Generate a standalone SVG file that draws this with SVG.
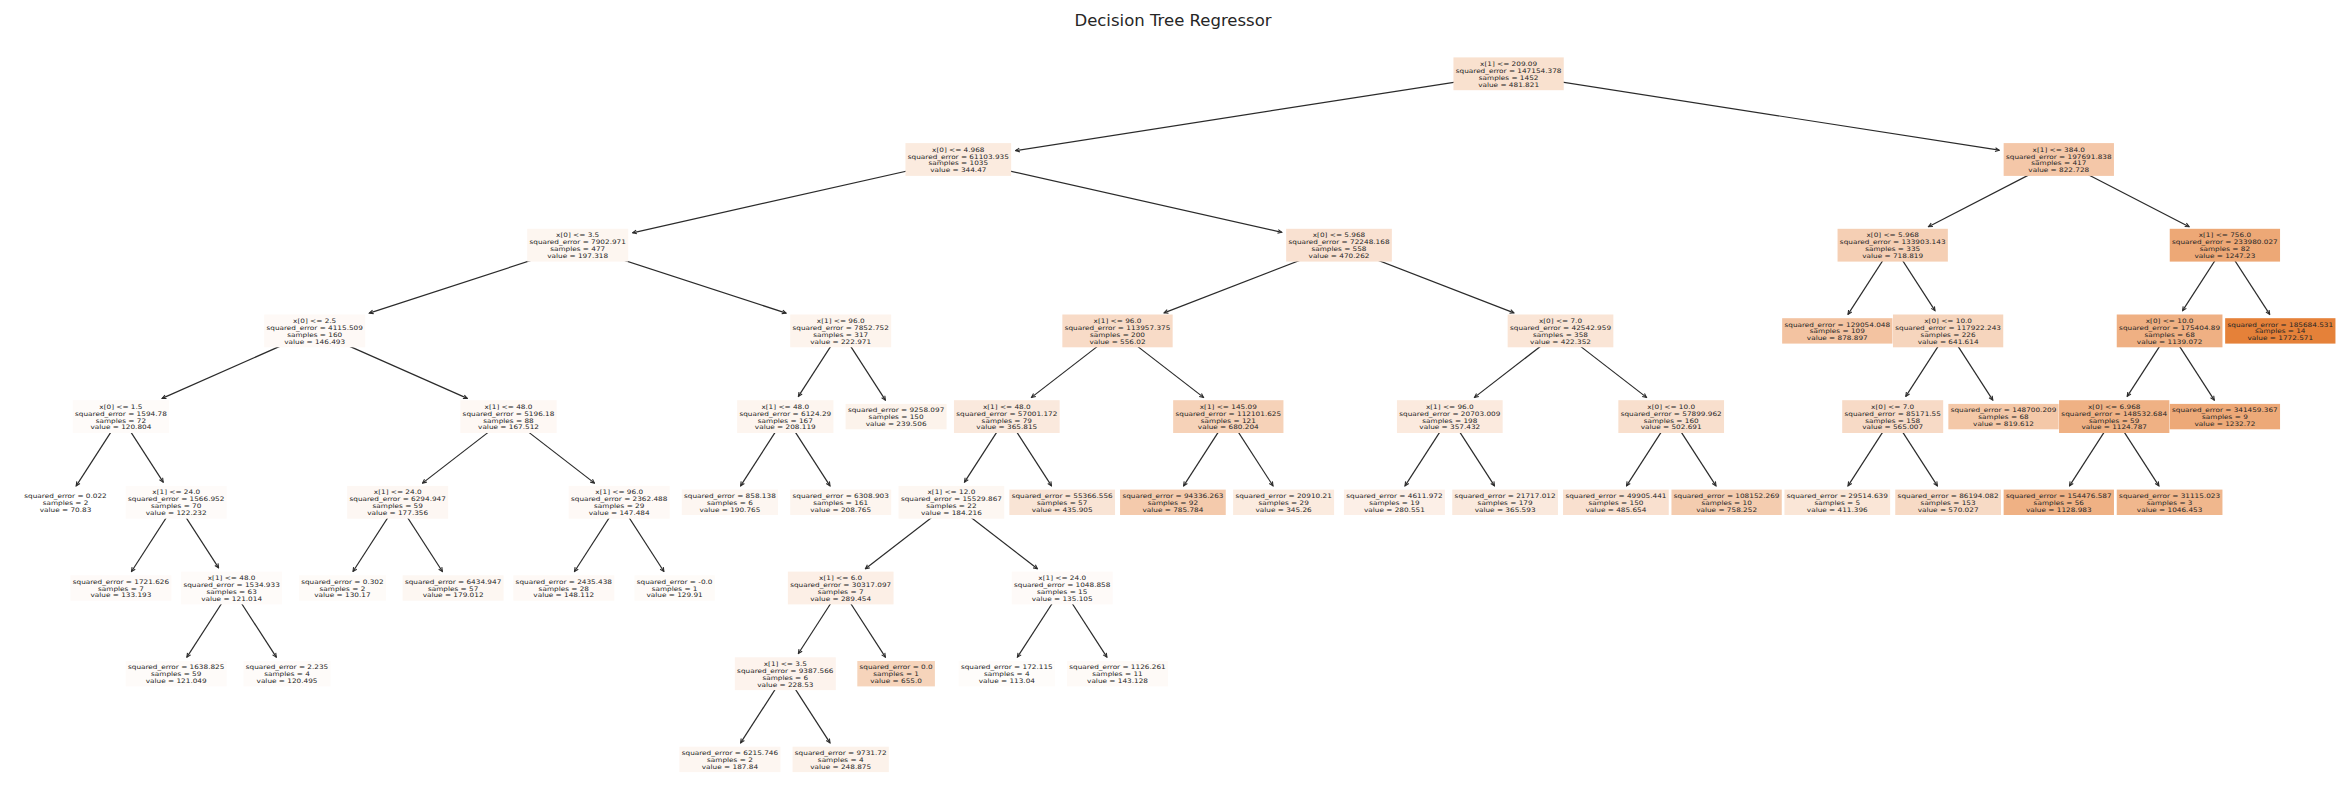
<svg xmlns="http://www.w3.org/2000/svg" width="2345" height="812" viewBox="0 0 2345 812">
<style>
.t{font-family:"DejaVu Sans","Liberation Sans",sans-serif;font-size:6.1px;fill:#262626;text-anchor:middle}
.title{font-family:"DejaVu Sans","Liberation Sans",sans-serif;font-size:16.5px;fill:#262626;text-anchor:middle}
.e{stroke:#2b2b2b;stroke-width:1.2;fill:none;marker-end:url(#ah)}
</style>
<defs>
<marker id="ah" viewBox="-5 -3 6 6" refX="0" refY="0" markerWidth="6" markerHeight="6" markerUnits="userSpaceOnUse" orient="auto">
<path d="M-4,-1.9 L0,0 L-4,1.9" fill="none" stroke="#2b2b2b" stroke-width="1.1"/>
</marker>
</defs>
<rect width="2345" height="812" fill="#ffffff"/>
<text class="title" x="1173" y="25.5">Decision Tree Regressor</text>
<g id="connectors">
<path class="e" d="M1508.6,73.8 L1015.6,150.6"/>
<path class="e" d="M1508.6,73.8 L1999.2,150.2"/>
<path class="e" d="M958.3,159.5 L632.6,232.8"/>
<path class="e" d="M958.3,159.5 L1281.8,232.3"/>
<path class="e" d="M2058.8,159.5 L1928.5,226.7"/>
<path class="e" d="M2058.8,159.5 L2189.1,226.7"/>
<path class="e" d="M577.7,245.2 L369.3,313.1"/>
<path class="e" d="M577.7,245.2 L786.1,313.1"/>
<path class="e" d="M1339.0,245.2 L1164.1,312.9"/>
<path class="e" d="M1339.0,245.2 L1513.9,312.9"/>
<path class="e" d="M1892.7,245.2 L1848.0,314.4"/>
<path class="e" d="M1892.7,245.2 L1935.0,310.7"/>
<path class="e" d="M2224.9,245.2 L2182.6,310.7"/>
<path class="e" d="M2224.9,245.2 L2269.7,314.4"/>
<path class="e" d="M314.7,330.9 L162.1,398.4"/>
<path class="e" d="M314.7,330.9 L467.3,398.4"/>
<path class="e" d="M840.7,330.9 L798.4,396.4"/>
<path class="e" d="M840.7,330.9 L885.4,400.1"/>
<path class="e" d="M1117.5,330.9 L1031.5,397.4"/>
<path class="e" d="M1117.5,330.9 L1203.5,397.4"/>
<path class="e" d="M1560.5,330.9 L1474.5,397.4"/>
<path class="e" d="M1560.5,330.9 L1646.5,397.4"/>
<path class="e" d="M1948.1,330.9 L1905.8,396.4"/>
<path class="e" d="M1948.1,330.9 L1992.8,400.1"/>
<path class="e" d="M2169.6,330.9 L2127.2,396.4"/>
<path class="e" d="M2169.6,330.9 L2214.3,400.1"/>
<path class="e" d="M120.9,416.6 L76.2,485.8"/>
<path class="e" d="M120.9,416.6 L163.2,482.1"/>
<path class="e" d="M508.5,416.6 L422.5,483.1"/>
<path class="e" d="M508.5,416.6 L594.5,483.1"/>
<path class="e" d="M785.3,416.6 L740.6,485.8"/>
<path class="e" d="M785.3,416.6 L830.0,485.8"/>
<path class="e" d="M1006.8,416.6 L964.5,482.1"/>
<path class="e" d="M1006.8,416.6 L1051.5,485.8"/>
<path class="e" d="M1228.3,416.6 L1183.6,485.8"/>
<path class="e" d="M1228.3,416.6 L1273.0,485.8"/>
<path class="e" d="M1449.8,416.6 L1405.0,485.8"/>
<path class="e" d="M1449.8,416.6 L1494.5,485.8"/>
<path class="e" d="M1671.2,416.6 L1626.5,485.8"/>
<path class="e" d="M1671.2,416.6 L1716.0,485.8"/>
<path class="e" d="M1892.7,416.6 L1848.0,485.8"/>
<path class="e" d="M1892.7,416.6 L1937.4,485.8"/>
<path class="e" d="M2114.2,416.6 L2069.5,485.8"/>
<path class="e" d="M2114.2,416.6 L2158.9,485.8"/>
<path class="e" d="M176.2,502.3 L131.5,571.5"/>
<path class="e" d="M176.2,502.3 L218.6,567.8"/>
<path class="e" d="M397.7,502.3 L353.0,571.5"/>
<path class="e" d="M397.7,502.3 L442.4,571.5"/>
<path class="e" d="M619.2,502.3 L574.5,571.5"/>
<path class="e" d="M619.2,502.3 L663.9,571.5"/>
<path class="e" d="M951.4,502.3 L865.4,568.8"/>
<path class="e" d="M951.4,502.3 L1037.4,568.8"/>
<path class="e" d="M231.6,588.0 L186.9,657.2"/>
<path class="e" d="M231.6,588.0 L276.3,657.2"/>
<path class="e" d="M840.7,588.0 L798.4,653.5"/>
<path class="e" d="M840.7,588.0 L885.4,657.2"/>
<path class="e" d="M1062.2,588.0 L1017.4,657.2"/>
<path class="e" d="M1062.2,588.0 L1106.9,657.2"/>
<path class="e" d="M785.3,673.7 L740.6,742.9"/>
<path class="e" d="M785.3,673.7 L830.0,742.9"/>
</g>

<g id="n0"><rect x="1453.45" y="57.4" width="110.3" height="32.8" fill="#f9e1cf"/><text class="t" transform="translate(1508.6 0) scale(1.2 1)"><tspan x="0" y="66.0">x[1] &lt;= 209.09</tspan><tspan x="0" y="72.9">squared_error = 147154.378</tspan><tspan x="0" y="79.8">samples = 1452</tspan><tspan x="0" y="86.7">value = 481.821</tspan></text></g>

<g id="n1"><rect x="905.45" y="143.1" width="105.7" height="32.8" fill="#fbebdf"/><text class="t" transform="translate(958.3 0) scale(1.2 1)"><tspan x="0" y="151.7">x[0] &lt;= 4.968</tspan><tspan x="0" y="158.6">squared_error = 61103.935</tspan><tspan x="0" y="165.5">samples = 1035</tspan><tspan x="0" y="172.4">value = 344.47</tspan></text></g>
<g id="n2"><rect x="2003.65" y="143.1" width="110.3" height="32.8" fill="#f4c7a8"/><text class="t" transform="translate(2058.8 0) scale(1.2 1)"><tspan x="0" y="151.7">x[1] &lt;= 384.0</tspan><tspan x="0" y="158.6">squared_error = 197691.838</tspan><tspan x="0" y="165.5">samples = 417</tspan><tspan x="0" y="172.4">value = 822.728</tspan></text></g>

<g id="n3"><rect x="527.2" y="228.8" width="101" height="32.8" fill="#fdf6f0"/><text class="t" transform="translate(577.7 0) scale(1.2 1)"><tspan x="0" y="237.4">x[0] &lt;= 3.5</tspan><tspan x="0" y="244.3">squared_error = 7902.971</tspan><tspan x="0" y="251.2">samples = 477</tspan><tspan x="0" y="258.1">value = 197.318</tspan></text></g>
<g id="n4"><rect x="1286.15" y="228.8" width="105.7" height="32.8" fill="#f9e1d1"/><text class="t" transform="translate(1339.0 0) scale(1.2 1)"><tspan x="0" y="237.4">x[0] &lt;= 5.968</tspan><tspan x="0" y="244.3">squared_error = 72248.168</tspan><tspan x="0" y="251.2">samples = 558</tspan><tspan x="0" y="258.1">value = 470.262</tspan></text></g>
<g id="n5"><rect x="1837.55" y="228.8" width="110.3" height="32.8" fill="#f5cfb4"/><text class="t" transform="translate(1892.7 0) scale(1.2 1)"><tspan x="0" y="237.4">x[0] &lt;= 5.968</tspan><tspan x="0" y="244.3">squared_error = 133903.143</tspan><tspan x="0" y="251.2">samples = 335</tspan><tspan x="0" y="258.1">value = 718.819</tspan></text></g>
<g id="n6"><rect x="2169.75" y="228.8" width="110.3" height="32.8" fill="#eda876"/><text class="t" transform="translate(2224.9 0) scale(1.2 1)"><tspan x="0" y="237.4">x[1] &lt;= 756.0</tspan><tspan x="0" y="244.3">squared_error = 233980.027</tspan><tspan x="0" y="251.2">samples = 82</tspan><tspan x="0" y="258.1">value = 1247.23</tspan></text></g>

<g id="n7"><rect x="264.2" y="314.5" width="101" height="32.8" fill="#fef9f6"/><text class="t" transform="translate(314.7 0) scale(1.2 1)"><tspan x="0" y="323.1">x[0] &lt;= 2.5</tspan><tspan x="0" y="330.0">squared_error = 4115.509</tspan><tspan x="0" y="336.9">samples = 160</tspan><tspan x="0" y="343.8">value = 146.493</tspan></text></g>
<g id="n8"><rect x="790.2" y="314.5" width="101" height="32.8" fill="#fdf4ed"/><text class="t" transform="translate(840.7 0) scale(1.2 1)"><tspan x="0" y="323.1">x[1] &lt;= 96.0</tspan><tspan x="0" y="330.0">squared_error = 7852.752</tspan><tspan x="0" y="336.9">samples = 317</tspan><tspan x="0" y="343.8">value = 222.971</tspan></text></g>
<g id="n9"><rect x="1062.35" y="314.5" width="110.3" height="32.8" fill="#f8dbc7"/><text class="t" transform="translate(1117.5 0) scale(1.2 1)"><tspan x="0" y="323.1">x[1] &lt;= 96.0</tspan><tspan x="0" y="330.0">squared_error = 113957.375</tspan><tspan x="0" y="336.9">samples = 200</tspan><tspan x="0" y="343.8">value = 556.02</tspan></text></g>
<g id="n10"><rect x="1507.65" y="314.5" width="105.7" height="32.8" fill="#fae5d6"/><text class="t" transform="translate(1560.5 0) scale(1.2 1)"><tspan x="0" y="323.1">x[0] &lt;= 7.0</tspan><tspan x="0" y="330.0">squared_error = 42542.959</tspan><tspan x="0" y="336.9">samples = 358</tspan><tspan x="0" y="343.8">value = 422.352</tspan></text></g>
<g id="n11"><rect x="1782.15" y="318.2" width="110.3" height="25.4" fill="#f3c3a1"/><text class="t" transform="translate(1837.3 0) scale(1.2 1)"><tspan x="0" y="326.55">squared_error = 129054.048</tspan><tspan x="0" y="333.45">samples = 109</tspan><tspan x="0" y="340.35">value = 878.897</tspan></text></g>
<g id="n12"><rect x="1892.95" y="314.5" width="110.3" height="32.8" fill="#f6d5bd"/><text class="t" transform="translate(1948.1 0) scale(1.2 1)"><tspan x="0" y="323.1">x[0] &lt;= 10.0</tspan><tspan x="0" y="330.0">squared_error = 117922.243</tspan><tspan x="0" y="336.9">samples = 226</tspan><tspan x="0" y="343.8">value = 641.614</tspan></text></g>
<g id="n13"><rect x="2116.75" y="314.5" width="105.7" height="32.8" fill="#efb083"/><text class="t" transform="translate(2169.6 0) scale(1.2 1)"><tspan x="0" y="323.1">x[0] &lt;= 10.0</tspan><tspan x="0" y="330.0">squared_error = 175404.89</tspan><tspan x="0" y="336.9">samples = 68</tspan><tspan x="0" y="343.8">value = 1139.072</tspan></text></g>
<g id="n14"><rect x="2225.15" y="318.2" width="110.3" height="25.4" fill="#e58139"/><text class="t" transform="translate(2280.3 0) scale(1.2 1)"><tspan x="0" y="326.55">squared_error = 185684.531</tspan><tspan x="0" y="333.45">samples = 14</tspan><tspan x="0" y="340.35">value = 1772.571</tspan></text></g>

<g id="n15"><rect x="72.75" y="400.2" width="96.3" height="32.8" fill="#fefbf9"/><text class="t" transform="translate(120.9 0) scale(1.2 1)"><tspan x="0" y="408.8">x[0] &lt;= 1.5</tspan><tspan x="0" y="415.7">squared_error = 1594.78</tspan><tspan x="0" y="422.6">samples = 72</tspan><tspan x="0" y="429.5">value = 120.804</tspan></text></g>
<g id="n16"><rect x="460.35" y="400.2" width="96.3" height="32.8" fill="#fef8f4"/><text class="t" transform="translate(508.5 0) scale(1.2 1)"><tspan x="0" y="408.8">x[1] &lt;= 48.0</tspan><tspan x="0" y="415.7">squared_error = 5196.18</tspan><tspan x="0" y="422.6">samples = 88</tspan><tspan x="0" y="429.5">value = 167.512</tspan></text></g>
<g id="n17"><rect x="737.15" y="400.2" width="96.3" height="32.8" fill="#fdf5ef"/><text class="t" transform="translate(785.3 0) scale(1.2 1)"><tspan x="0" y="408.8">x[1] &lt;= 48.0</tspan><tspan x="0" y="415.7">squared_error = 6124.29</tspan><tspan x="0" y="422.6">samples = 167</tspan><tspan x="0" y="429.5">value = 208.119</tspan></text></g>
<g id="n18"><rect x="845.6" y="403.9" width="101" height="25.4" fill="#fcf3eb"/><text class="t" transform="translate(896.1 0) scale(1.2 1)"><tspan x="0" y="412.25">squared_error = 9258.097</tspan><tspan x="0" y="419.15">samples = 150</tspan><tspan x="0" y="426.05">value = 239.506</tspan></text></g>
<g id="n19"><rect x="953.95" y="400.2" width="105.7" height="32.8" fill="#fae9dd"/><text class="t" transform="translate(1006.8 0) scale(1.2 1)"><tspan x="0" y="408.8">x[1] &lt;= 48.0</tspan><tspan x="0" y="415.7">squared_error = 57001.172</tspan><tspan x="0" y="422.6">samples = 79</tspan><tspan x="0" y="429.5">value = 365.815</tspan></text></g>
<g id="n20"><rect x="1173.15" y="400.2" width="110.3" height="32.8" fill="#f6d2b8"/><text class="t" transform="translate(1228.3 0) scale(1.2 1)"><tspan x="0" y="408.8">x[1] &lt;= 145.09</tspan><tspan x="0" y="415.7">squared_error = 112101.625</tspan><tspan x="0" y="422.6">samples = 121</tspan><tspan x="0" y="429.5">value = 680.204</tspan></text></g>
<g id="n21"><rect x="1396.95" y="400.2" width="105.7" height="32.8" fill="#fbeade"/><text class="t" transform="translate(1449.8 0) scale(1.2 1)"><tspan x="0" y="408.8">x[1] &lt;= 96.0</tspan><tspan x="0" y="415.7">squared_error = 20703.009</tspan><tspan x="0" y="422.6">samples = 198</tspan><tspan x="0" y="429.5">value = 357.432</tspan></text></g>
<g id="n22"><rect x="1618.35" y="400.2" width="105.7" height="32.8" fill="#f8dfcd"/><text class="t" transform="translate(1671.2 0) scale(1.2 1)"><tspan x="0" y="408.8">x[0] &lt;= 10.0</tspan><tspan x="0" y="415.7">squared_error = 57899.962</tspan><tspan x="0" y="422.6">samples = 160</tspan><tspan x="0" y="429.5">value = 502.691</tspan></text></g>
<g id="n23"><rect x="1842.2" y="400.2" width="101" height="32.8" fill="#f7dac6"/><text class="t" transform="translate(1892.7 0) scale(1.2 1)"><tspan x="0" y="408.8">x[0] &lt;= 7.0</tspan><tspan x="0" y="415.7">squared_error = 85171.55</tspan><tspan x="0" y="422.6">samples = 158</tspan><tspan x="0" y="429.5">value = 565.007</tspan></text></g>
<g id="n24"><rect x="1948.35" y="403.9" width="110.3" height="25.4" fill="#f4c8a8"/><text class="t" transform="translate(2003.5 0) scale(1.2 1)"><tspan x="0" y="412.25">squared_error = 148700.209</tspan><tspan x="0" y="419.15">samples = 68</tspan><tspan x="0" y="426.05">value = 819.612</tspan></text></g>
<g id="n25"><rect x="2059.05" y="400.2" width="110.3" height="32.8" fill="#efb184"/><text class="t" transform="translate(2114.2 0) scale(1.2 1)"><tspan x="0" y="408.8">x[0] &lt;= 6.968</tspan><tspan x="0" y="415.7">squared_error = 148532.684</tspan><tspan x="0" y="422.6">samples = 59</tspan><tspan x="0" y="429.5">value = 1124.787</tspan></text></g>
<g id="n26"><rect x="2169.75" y="403.9" width="110.3" height="25.4" fill="#eda978"/><text class="t" transform="translate(2224.9 0) scale(1.2 1)"><tspan x="0" y="412.25">squared_error = 341459.367</tspan><tspan x="0" y="419.15">samples = 9</tspan><tspan x="0" y="426.05">value = 1232.72</tspan></text></g>

<g id="n27"><rect x="22.0" y="489.6" width="87" height="25.4" fill="#ffffff"/><text class="t" transform="translate(65.5 0) scale(1.2 1)"><tspan x="0" y="497.95">squared_error = 0.022</tspan><tspan x="0" y="504.85">samples = 2</tspan><tspan x="0" y="511.75">value = 70.83</tspan></text></g>
<g id="n28"><rect x="125.7" y="485.9" width="101" height="32.8" fill="#fefbf9"/><text class="t" transform="translate(176.2 0) scale(1.2 1)"><tspan x="0" y="494.5">x[1] &lt;= 24.0</tspan><tspan x="0" y="501.4">squared_error = 1566.952</tspan><tspan x="0" y="508.3">samples = 70</tspan><tspan x="0" y="515.2">value = 122.232</tspan></text></g>
<g id="n29"><rect x="347.2" y="485.9" width="101" height="32.8" fill="#fdf7f3"/><text class="t" transform="translate(397.7 0) scale(1.2 1)"><tspan x="0" y="494.5">x[1] &lt;= 24.0</tspan><tspan x="0" y="501.4">squared_error = 6294.947</tspan><tspan x="0" y="508.3">samples = 59</tspan><tspan x="0" y="515.2">value = 177.356</tspan></text></g>
<g id="n30"><rect x="568.7" y="485.9" width="101" height="32.8" fill="#fef9f6"/><text class="t" transform="translate(619.2 0) scale(1.2 1)"><tspan x="0" y="494.5">x[1] &lt;= 96.0</tspan><tspan x="0" y="501.4">squared_error = 2362.488</tspan><tspan x="0" y="508.3">samples = 29</tspan><tspan x="0" y="515.2">value = 147.484</tspan></text></g>
<g id="n31"><rect x="681.75" y="489.6" width="96.3" height="25.4" fill="#fdf6f1"/><text class="t" transform="translate(729.9 0) scale(1.2 1)"><tspan x="0" y="497.95">squared_error = 858.138</tspan><tspan x="0" y="504.85">samples = 6</tspan><tspan x="0" y="511.75">value = 190.765</tspan></text></g>
<g id="n32"><rect x="790.2" y="489.6" width="101" height="25.4" fill="#fdf5ef"/><text class="t" transform="translate(840.7 0) scale(1.2 1)"><tspan x="0" y="497.95">squared_error = 6308.903</tspan><tspan x="0" y="504.85">samples = 161</tspan><tspan x="0" y="511.75">value = 208.765</tspan></text></g>
<g id="n33"><rect x="898.55" y="485.9" width="105.7" height="32.8" fill="#fdf7f2"/><text class="t" transform="translate(951.4 0) scale(1.2 1)"><tspan x="0" y="494.5">x[1] &lt;= 12.0</tspan><tspan x="0" y="501.4">squared_error = 15529.867</tspan><tspan x="0" y="508.3">samples = 22</tspan><tspan x="0" y="515.2">value = 184.216</tspan></text></g>
<g id="n34"><rect x="1009.35" y="489.6" width="105.7" height="25.4" fill="#f9e4d5"/><text class="t" transform="translate(1062.2 0) scale(1.2 1)"><tspan x="0" y="497.95">squared_error = 55366.556</tspan><tspan x="0" y="504.85">samples = 57</tspan><tspan x="0" y="511.75">value = 435.905</tspan></text></g>
<g id="n35"><rect x="1120.05" y="489.6" width="105.7" height="25.4" fill="#f4caac"/><text class="t" transform="translate(1172.9 0) scale(1.2 1)"><tspan x="0" y="497.95">squared_error = 94336.263</tspan><tspan x="0" y="504.85">samples = 92</tspan><tspan x="0" y="511.75">value = 785.784</tspan></text></g>
<g id="n36"><rect x="1233.1" y="489.6" width="101" height="25.4" fill="#fbebdf"/><text class="t" transform="translate(1283.6 0) scale(1.2 1)"><tspan x="0" y="497.95">squared_error = 20910.21</tspan><tspan x="0" y="504.85">samples = 29</tspan><tspan x="0" y="511.75">value = 345.26</tspan></text></g>
<g id="n37"><rect x="1343.9" y="489.6" width="101" height="25.4" fill="#fcefe7"/><text class="t" transform="translate(1394.4 0) scale(1.2 1)"><tspan x="0" y="497.95">squared_error = 4611.972</tspan><tspan x="0" y="504.85">samples = 19</tspan><tspan x="0" y="511.75">value = 280.551</tspan></text></g>
<g id="n38"><rect x="1452.25" y="489.6" width="105.7" height="25.4" fill="#fae9dd"/><text class="t" transform="translate(1505.1 0) scale(1.2 1)"><tspan x="0" y="497.95">squared_error = 21717.012</tspan><tspan x="0" y="504.85">samples = 179</tspan><tspan x="0" y="511.75">value = 365.593</tspan></text></g>
<g id="n39"><rect x="1563.05" y="489.6" width="105.7" height="25.4" fill="#f9e0cf"/><text class="t" transform="translate(1615.9 0) scale(1.2 1)"><tspan x="0" y="497.95">squared_error = 49905.441</tspan><tspan x="0" y="504.85">samples = 150</tspan><tspan x="0" y="511.75">value = 485.654</tspan></text></g>
<g id="n40"><rect x="1671.45" y="489.6" width="110.3" height="25.4" fill="#f4ccaf"/><text class="t" transform="translate(1726.6 0) scale(1.2 1)"><tspan x="0" y="497.95">squared_error = 108152.269</tspan><tspan x="0" y="504.85">samples = 10</tspan><tspan x="0" y="511.75">value = 758.252</tspan></text></g>
<g id="n41"><rect x="1784.45" y="489.6" width="105.7" height="25.4" fill="#fae6d7"/><text class="t" transform="translate(1837.3 0) scale(1.2 1)"><tspan x="0" y="497.95">squared_error = 29514.639</tspan><tspan x="0" y="504.85">samples = 5</tspan><tspan x="0" y="511.75">value = 411.396</tspan></text></g>
<g id="n42"><rect x="1895.25" y="489.6" width="105.7" height="25.4" fill="#f7dac5"/><text class="t" transform="translate(1948.1 0) scale(1.2 1)"><tspan x="0" y="497.95">squared_error = 86194.082</tspan><tspan x="0" y="504.85">samples = 153</tspan><tspan x="0" y="511.75">value = 570.027</tspan></text></g>
<g id="n43"><rect x="2003.65" y="489.6" width="110.3" height="25.4" fill="#efb184"/><text class="t" transform="translate(2058.8 0) scale(1.2 1)"><tspan x="0" y="497.95">squared_error = 154476.587</tspan><tspan x="0" y="504.85">samples = 56</tspan><tspan x="0" y="511.75">value = 1128.983</tspan></text></g>
<g id="n44"><rect x="2116.75" y="489.6" width="105.7" height="25.4" fill="#f0b78d"/><text class="t" transform="translate(2169.6 0) scale(1.2 1)"><tspan x="0" y="497.95">squared_error = 31115.023</tspan><tspan x="0" y="504.85">samples = 3</tspan><tspan x="0" y="511.75">value = 1046.453</tspan></text></g>

<g id="n45"><rect x="70.4" y="575.3" width="101" height="25.4" fill="#fefaf8"/><text class="t" transform="translate(120.9 0) scale(1.2 1)"><tspan x="0" y="583.65">squared_error = 1721.626</tspan><tspan x="0" y="590.55">samples = 7</tspan><tspan x="0" y="597.45">value = 133.193</tspan></text></g>
<g id="n46"><rect x="181.1" y="571.6" width="101" height="32.8" fill="#fefbf9"/><text class="t" transform="translate(231.6 0) scale(1.2 1)"><tspan x="0" y="580.2">x[1] &lt;= 48.0</tspan><tspan x="0" y="587.1">squared_error = 1534.933</tspan><tspan x="0" y="594.0">samples = 63</tspan><tspan x="0" y="600.9">value = 121.014</tspan></text></g>
<g id="n47"><rect x="298.9" y="575.3" width="87" height="25.4" fill="#fefbf8"/><text class="t" transform="translate(342.4 0) scale(1.2 1)"><tspan x="0" y="583.65">squared_error = 0.302</tspan><tspan x="0" y="590.55">samples = 2</tspan><tspan x="0" y="597.45">value = 130.17</tspan></text></g>
<g id="n48"><rect x="402.6" y="575.3" width="101" height="25.4" fill="#fdf7f2"/><text class="t" transform="translate(453.1 0) scale(1.2 1)"><tspan x="0" y="583.65">squared_error = 6434.947</tspan><tspan x="0" y="590.55">samples = 57</tspan><tspan x="0" y="597.45">value = 179.012</tspan></text></g>
<g id="n49"><rect x="513.3" y="575.3" width="101" height="25.4" fill="#fef9f6"/><text class="t" transform="translate(563.8 0) scale(1.2 1)"><tspan x="0" y="583.65">squared_error = 2435.438</tspan><tspan x="0" y="590.55">samples = 28</tspan><tspan x="0" y="597.45">value = 148.112</tspan></text></g>
<g id="n50"><rect x="634.45" y="575.3" width="80.3" height="25.4" fill="#fefbf8"/><text class="t" transform="translate(674.6 0) scale(1.2 1)"><tspan x="0" y="583.65">squared_error = -0.0</tspan><tspan x="0" y="590.55">samples = 1</tspan><tspan x="0" y="597.45">value = 129.91</tspan></text></g>
<g id="n51"><rect x="787.85" y="571.6" width="105.7" height="32.8" fill="#fcefe6"/><text class="t" transform="translate(840.7 0) scale(1.2 1)"><tspan x="0" y="580.2">x[1] &lt;= 6.0</tspan><tspan x="0" y="587.1">squared_error = 30317.097</tspan><tspan x="0" y="594.0">samples = 7</tspan><tspan x="0" y="600.9">value = 289.454</tspan></text></g>
<g id="n52"><rect x="1011.7" y="571.6" width="101" height="32.8" fill="#fefaf8"/><text class="t" transform="translate(1062.2 0) scale(1.2 1)"><tspan x="0" y="580.2">x[1] &lt;= 24.0</tspan><tspan x="0" y="587.1">squared_error = 1048.858</tspan><tspan x="0" y="594.0">samples = 15</tspan><tspan x="0" y="600.9">value = 135.105</tspan></text></g>

<g id="n53"><rect x="125.7" y="661.0" width="101" height="25.4" fill="#fefbf9"/><text class="t" transform="translate(176.2 0) scale(1.2 1)"><tspan x="0" y="669.35">squared_error = 1638.825</tspan><tspan x="0" y="676.25">samples = 59</tspan><tspan x="0" y="683.15">value = 121.049</tspan></text></g>
<g id="n54"><rect x="243.5" y="661.0" width="87" height="25.4" fill="#fefbf9"/><text class="t" transform="translate(287.0 0) scale(1.2 1)"><tspan x="0" y="669.35">squared_error = 2.235</tspan><tspan x="0" y="676.25">samples = 4</tspan><tspan x="0" y="683.15">value = 120.495</tspan></text></g>
<g id="n55"><rect x="734.8" y="657.3" width="101" height="32.8" fill="#fdf3ed"/><text class="t" transform="translate(785.3 0) scale(1.2 1)"><tspan x="0" y="665.9">x[1] &lt;= 3.5</tspan><tspan x="0" y="672.8">squared_error = 9387.566</tspan><tspan x="0" y="679.7">samples = 6</tspan><tspan x="0" y="686.6">value = 228.53</tspan></text></g>
<g id="n56"><rect x="857.3" y="661.0" width="77.6" height="25.4" fill="#f6d4bb"/><text class="t" transform="translate(896.1 0) scale(1.2 1)"><tspan x="0" y="669.35">squared_error = 0.0</tspan><tspan x="0" y="676.25">samples = 1</tspan><tspan x="0" y="683.15">value = 655.0</tspan></text></g>
<g id="n57"><rect x="958.65" y="661.0" width="96.3" height="25.4" fill="#fefcfa"/><text class="t" transform="translate(1006.8 0) scale(1.2 1)"><tspan x="0" y="669.35">squared_error = 172.115</tspan><tspan x="0" y="676.25">samples = 4</tspan><tspan x="0" y="683.15">value = 113.04</tspan></text></g>
<g id="n58"><rect x="1067.0" y="661.0" width="101" height="25.4" fill="#fefaf7"/><text class="t" transform="translate(1117.5 0) scale(1.2 1)"><tspan x="0" y="669.35">squared_error = 1126.261</tspan><tspan x="0" y="676.25">samples = 11</tspan><tspan x="0" y="683.15">value = 143.128</tspan></text></g>

<g id="n59"><rect x="679.4" y="746.7" width="101" height="25.4" fill="#fdf6f1"/><text class="t" transform="translate(729.9 0) scale(1.2 1)"><tspan x="0" y="755.05">squared_error = 6215.746</tspan><tspan x="0" y="761.95">samples = 2</tspan><tspan x="0" y="768.85">value = 187.84</tspan></text></g>
<g id="n60"><rect x="792.55" y="746.7" width="96.3" height="25.4" fill="#fcf2ea"/><text class="t" transform="translate(840.7 0) scale(1.2 1)"><tspan x="0" y="755.05">squared_error = 9731.72</tspan><tspan x="0" y="761.95">samples = 4</tspan><tspan x="0" y="768.85">value = 248.875</tspan></text></g>
</svg>
